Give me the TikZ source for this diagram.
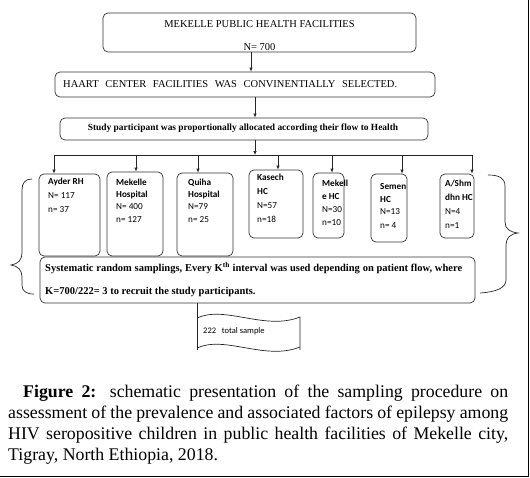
\documentclass[tikz,border=0pt]{standalone}
\usepackage{fontspec}
\setmainfont{Liberation Serif}
\newfontfamily\calfont{Carlito}
\usetikzlibrary{arrows.meta}
\begin{document}
\begin{tikzpicture}[x=1pt,y=-1pt,
  box/.style={draw=black!80, rounded corners=5pt, line width=0.7pt, inner sep=0pt},
  conn/.style={draw=black!85, line width=0.7pt},
  arr/.style={conn, -{Latex[length=4pt,width=3.5pt]}},
  caps/.style={inner sep=0pt, font=\fontsize{10.5}{12}\selectfont},
  boldt/.style={inner sep=0pt, font=\bfseries\fontsize{9.4}{11}\selectfont},
  syst/.style={inner sep=0pt, anchor=west, font=\bfseries\fontsize{10.5}{12}\selectfont},
  sbt/.style={inner sep=0pt, anchor=north west, align=left, font=\calfont\fontsize{9.2}{13.8}\selectfont},
  capt/.style={inner sep=0pt, anchor=base west, font=\fontsize{17.8}{21}\selectfont}
]
\useasboundingbox (0,0) rectangle (530,477);

% top boxes
\node[box, minimum width=313pt, minimum height=39pt] (b1) at (259.5,32.5) {};
\node[caps] (t1) at (259.5,24) {MEKELLE PUBLIC HEALTH FACILITIES};
\node[caps] (t1b) at (259.5,47) {N= 700};

\node[box, minimum width=380pt, minimum height=25pt] (b2) at (245,84.5) {};
\node[caps, anchor=west] (t2) at (63,84.5) {\makebox[334pt][s]{HAART CENTER FACILITIES WAS CONVINENTIALLY SELECTED.}};

\node[box, minimum width=368pt, minimum height=22pt] (b3) at (244,129) {};
\node[boldt] (t3) at (243,128.5) {Study participant was proportionally allocated according their flow to Health};

\draw[arr] (b1.south -| 251,0) -- (b2.north -| 251,0);
\draw[arr] (b2.south -| 255,0) -- (b3.north -| 255,0);

% distribution bar
\coordinate (hL) at (54,155);
\coordinate (hR) at (473,155);
\coordinate (hM) at (255,155);
\draw[arr] (b3.south -| hM) -- (hM);
\draw[conn] (hL) -- (hR);

% facility boxes
\node[box, minimum width=61pt, minimum height=82pt] (ayder) at (69.5,215) {};
\node[box, minimum width=56pt, minimum height=84pt] (mekh) at (135,214) {};
\node[box, minimum width=56pt, minimum height=83pt] (quiha) at (205,214.5) {};
\node[box, minimum width=54pt, minimum height=68pt] (kasech) at (276,204) {};
\node[box, minimum width=31pt, minimum height=65pt] (mekhc) at (328.5,205.5) {};
\node[box, minimum width=36pt, minimum height=68pt] (semen) at (389,208) {};
\node[box, minimum width=34pt, minimum height=64pt] (ashm) at (457,206) {};

\coordinate (a1) at (54,155);
\coordinate (a2) at (136,155);
\coordinate (a3) at (198,155);
\coordinate (a4) at (278,155);
\coordinate (a5) at (332,155);
\coordinate (a6) at (402,155);
\coordinate (a7) at (472,155);
\draw[arr] (a1) -- (a1 |- ayder.north);
\draw[arr] (a2) -- (a2 |- mekh.north);
\draw[arr] (a3) -- (a3 |- quiha.north);
\draw[arr] (a4) -- (a4 |- kasech.north);
\draw[arr] (a5) -- (a5 |- mekhc.north);
\draw[arr] (a6) -- (a6 |- semen.north);
\draw[arr] (a7) -- (a7 |- ashm.north);

\node[sbt] (ta) at (48,178) {\textbf{Ayder RH}\\N= 117\\n= 37};
\node[sbt] (tb) at (116,179) {\textbf{Mekelle}\\[-2pt]\textbf{Hospital}\\[-2pt]N= 400\\[-1pt]n= 127};
\node[sbt] (tc) at (188,179) {\textbf{Quiha}\\[-2pt]\textbf{Hospital}\\[-2pt]N=79\\[-1pt]n= 25};
\node[sbt] (td) at (257,174) {\textbf{Kasech}\\\textbf{HC}\\N=57\\n=18};
\node[sbt] (te) at (322,180) {\textbf{Mekell}\\[-1pt]\textbf{e HC}\\[-1pt]N=30\\[-1pt]n=10};
\node[sbt] (tf) at (380,183) {\textbf{Semen}\\[-1pt]\textbf{HC}\\[-1pt]N=13\\n= 4};
\node[sbt] (tg) at (445,180) {\textbf{A/Shm}\\\textbf{dhn HC}\\N=4\\n=1};

% braces
\draw[conn] (32,179) .. controls (25,179) and (22,183) .. (22,190) -- (22,253)
  .. controls (22,260) and (18,264) .. (11,265)
  .. controls (18,266) and (22,270) .. (22,277) -- (22,285)
  .. controls (22,291) and (26,294) .. (34,294);
\draw[conn] (488,175) .. controls (499,175) and (505,178) .. (505,186) -- (505,222)
  .. controls (505,229) and (510,232) .. (518,233)
  .. controls (510,234) and (506,238) .. (506,245) -- (506,280)
  .. controls (506,288) and (496,292) .. (480,293);

% systematic box
\node[box, minimum width=435pt, minimum height=46pt] (sys) at (257.5,280) {};
\node[syst] (s1) at (45,268)
  {\makebox[417pt][s]{Systematic random samplings, Every K\textsuperscript{th} interval was used depending on patient flow, where}};
\node[syst] (s2) at (45,292)
  {K=700/222= 3 to recruit the study participants.};

% document shape
\coordinate (dl) at (197,350);
\coordinate (dr) at (300,350);
\draw[conn] (sys.south -| dl) -- (dl);
\draw[conn] (197,318) .. controls (225,305) and (265,331) .. (300,317) -- (dr);
\draw[conn] (197,348) .. controls (225,335) and (265,361) .. (300,347);
\node[inner sep=0pt, anchor=west, font=\calfont\fontsize{8.5}{10}\selectfont] (doc) at (203,331) {222\ \ \ total sample};

% caption
\node[capt] (c1) at (23,397) {\makebox[485pt][s]{\textbf{Figure 2:} schematic presentation of the sampling procedure on}};
\node[capt] (c2) at (8,418) {\makebox[500pt][s]{assessment of the prevalence and associated factors of epilepsy among}};
\node[capt] (c3) at (8,439) {\makebox[500pt][s]{HIV seropositive children in public health facilities of Mekelle city,}};
\node[capt] (c4) at (8,460) {Tigray, North Ethiopia, 2018.};

% frame
\draw[black, line width=0.9pt] (528,0) -- (528,476) -- (0,476);
\end{tikzpicture}
\end{document}
